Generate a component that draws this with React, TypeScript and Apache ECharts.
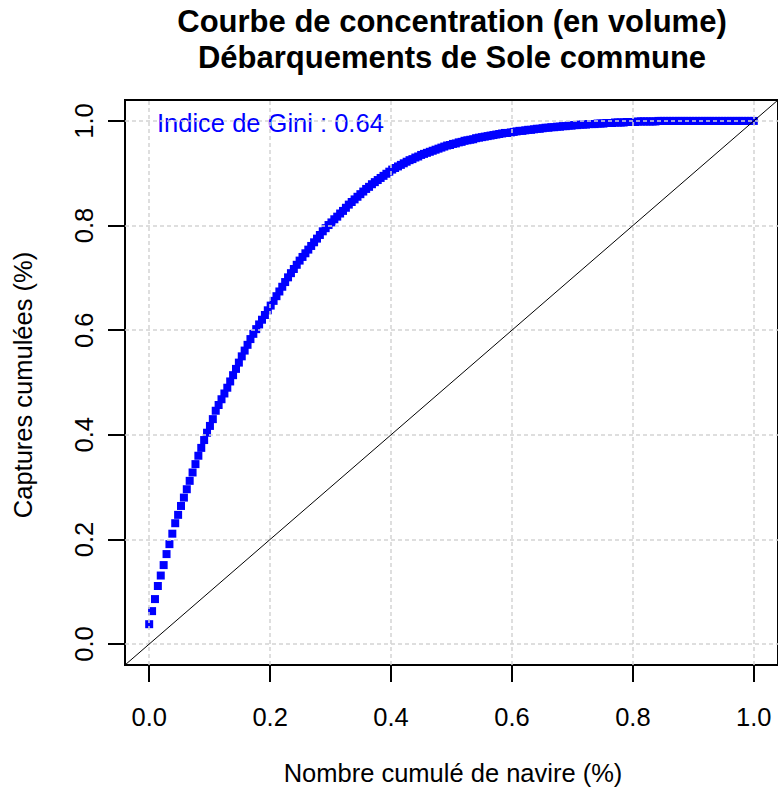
import React, { useEffect, useRef } from "react";
import * as echarts from "echarts";

// Cumulated catch share for each vessel (sorted)
const captures = [
  0.038, 0.063, 0.086, 0.111, 0.131, 0.151, 0.172, 0.191, 0.211, 0.231, 0.247, 0.264,
  0.280, 0.296, 0.312, 0.328, 0.344, 0.360, 0.375, 0.390, 0.404, 0.417, 0.430, 0.446,
  0.457, 0.468, 0.479, 0.490, 0.502, 0.514, 0.526, 0.538, 0.550, 0.561, 0.572, 0.583,
  0.593, 0.602, 0.611, 0.620, 0.629, 0.638, 0.647, 0.656, 0.665, 0.674, 0.683, 0.692,
  0.701, 0.709, 0.717, 0.725, 0.733, 0.740, 0.747, 0.754, 0.761, 0.768, 0.775, 0.782,
  0.789, 0.795, 0.801, 0.806, 0.812, 0.817, 0.823, 0.828, 0.834, 0.840, 0.845, 0.850,
  0.855, 0.860, 0.865, 0.870, 0.874, 0.879, 0.883, 0.887, 0.891, 0.895, 0.899, 0.903,
  0.907, 0.910, 0.913, 0.916, 0.919, 0.922, 0.925, 0.927, 0.930, 0.932, 0.935, 0.937,
  0.939, 0.941, 0.943, 0.945, 0.947, 0.949, 0.951, 0.953, 0.954, 0.956, 0.957, 0.959,
  0.960, 0.962, 0.963, 0.964, 0.965, 0.967, 0.968, 0.969, 0.970, 0.971, 0.972, 0.973,
  0.974, 0.975, 0.976, 0.977, 0.977, 0.978, 0.979, 0.980, 0.981, 0.981, 0.982, 0.983,
  0.983, 0.984, 0.985, 0.985, 0.986, 0.987, 0.987, 0.988, 0.988, 0.989, 0.989, 0.990,
  0.990, 0.991, 0.991, 0.992, 0.992, 0.993, 0.993, 0.993, 0.994, 0.994, 0.994, 0.995,
  0.995, 0.995, 0.996, 0.996, 0.996, 0.997, 0.997, 0.997, 0.997, 0.998, 0.998, 0.998,
  0.998, 0.999, 0.999, 0.999, 0.999, 0.999, 0.999, 0.999,
  1.000, 1.000, 1.000, 1.000, 1.000, 1.000, 1.000, 1.000, 1.000, 1.000,
  1.000, 1.000, 1.000, 1.000, 1.000, 1.000, 1.000, 1.000, 1.000, 1.000,
  1.000, 1.000, 1.000, 1.000, 1.000, 1.000, 1.000, 1.000, 1.000, 1.000,
  1.000, 1.000, 1.000, 1.000,
];

const tickValues = [0, 0.2, 0.4, 0.6, 0.8, 1.0];
const axisLimits = [-0.04, 1.04];
const titleLines = ["Courbe de concentration (en volume)", "Débarquements de Sole commune"];
const xTitle = "Nombre cumulé de navire (%)";
const yTitle = "Captures cumulées (%)";
const giniLabel = "Indice de Gini : 0.64";

const FONT = "'Liberation Sans', Arial, sans-serif";

export default function App() {
  const ref = useRef<HTMLDivElement>(null);

  useEffect(() => {
    if (!ref.current) return;
    const chart = echarts.init(ref.current, null, { renderer: "svg" });
    const n = captures.length;
    const points = captures.map((y, i) => [i / (n - 1), y]);
    const diagonal = axisLimits.map((v) => [v, v]);

    const gridLines = [
      ...tickValues.map((v) => ({ xAxis: v })),
      ...tickValues.map((v) => ({ yAxis: v })),
    ];

    const axisCommon = (rotate: number, margin: number) => ({
      type: "value",
      min: axisLimits[0],
      max: axisLimits[1],
      axisLine: { show: false, onZero: false },
      splitLine: { show: false },
      axisTick: {
        show: true,
        inside: false,
        customValues: tickValues,
        length: 17,
        lineStyle: { color: "#000000", width: 2 },
      },
      axisLabel: {
        customValues: tickValues,
        formatter: (v: number) => v.toFixed(1),
        fontSize: 25.5,
        color: "#000000",
        fontFamily: FONT,
        rotate,
        margin,
      },
    });

    const option: any = {
      animation: false,
      backgroundColor: "#ffffff",
      textStyle: { fontFamily: FONT },
      grid: {
        left: 125,
        top: 100,
        right: -6,
        bottom: 126,
        show: true,
        borderColor: "#000000",
        borderWidth: 2,
        backgroundColor: "transparent",
      },
      xAxis: axisCommon(0, 39),
      yAxis: axisCommon(90, 28),
      series: [
        {
          type: "scatter",
          data: points,
          symbol: "rect",
          symbolSize: 8,
          itemStyle: { color: "#0000ff", opacity: 1 },
          z: 2,
          silent: true,
        },
        {
          type: "line",
          data: diagonal,
          showSymbol: false,
          symbol: "none",
          lineStyle: { color: "#000000", width: 1 },
          z: 6,
          silent: true,
          markLine: {
            silent: true,
            symbol: ["none", "none"],
            label: { show: false },
            lineStyle: { color: "#d3d3d3", type: [4, 3], width: 1.5 },
            data: gridLines,
            z: 5,
          },
        },
      ],
      graphic: [
        {
          type: "text",
          x: 452,
          y: 21,
          style: {
            text: titleLines[0],
            font: `bold 31px ${FONT}`,
            fill: "#000000",
            align: "center",
            verticalAlign: "middle",
          },
        },
        {
          type: "text",
          x: 452,
          y: 57,
          style: {
            text: titleLines[1],
            font: `bold 31px ${FONT}`,
            fill: "#000000",
            align: "center",
            verticalAlign: "middle",
          },
        },
        {
          type: "text",
          x: 453,
          y: 773,
          style: {
            text: xTitle,
            font: `25.5px ${FONT}`,
            fill: "#000000",
            align: "center",
            verticalAlign: "middle",
          },
        },
        {
          type: "text",
          x: 23,
          y: 385,
          rotation: Math.PI / 2,
          style: {
            text: yTitle,
            font: `25.5px ${FONT}`,
            fill: "#000000",
            align: "center",
            verticalAlign: "middle",
          },
        },
        {
          type: "text",
          x: 157,
          y: 123,
          style: {
            text: giniLabel,
            font: `25.5px ${FONT}`,
            fill: "#0000ff",
            align: "left",
            verticalAlign: "middle",
          },
        },
      ],
    };

    chart.setOption(option);
    return () => chart.dispose();
  }, []);

  return (
    <div
      ref={ref}
      style={{ position: "absolute", left: 0, top: 0, width: 778, height: 791, background: "#ffffff" }}
    />
  );
}
